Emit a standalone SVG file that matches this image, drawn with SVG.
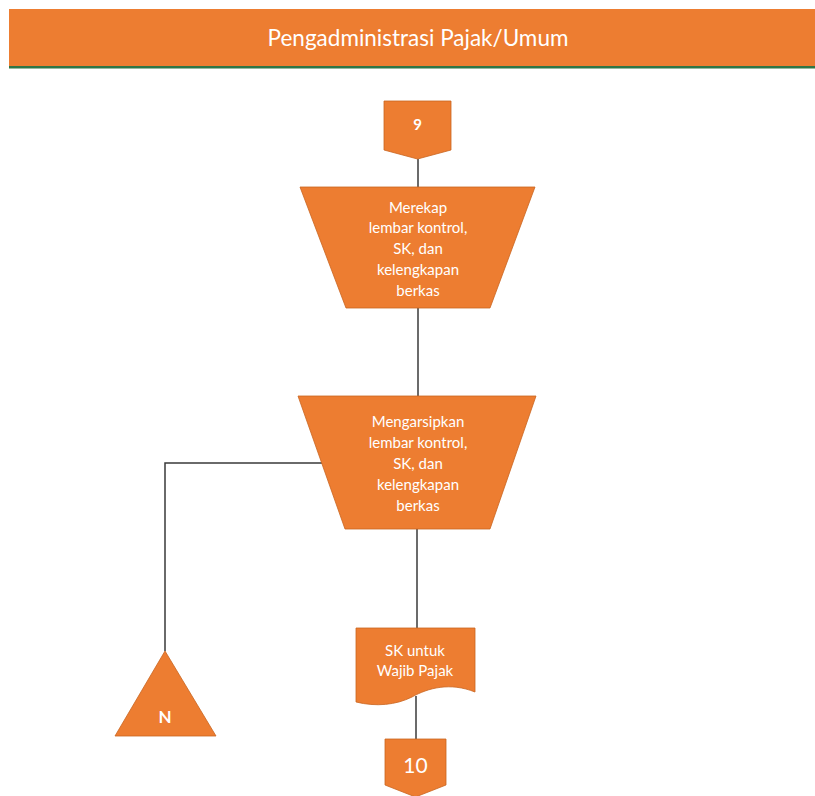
<svg xmlns="http://www.w3.org/2000/svg" width="815" height="796" viewBox="0 0 815 796">
<style>
.shape{fill:#ED7D31;stroke:#C9641F;stroke-width:0.8}
.lbl{font-family:Lato,"Open Sans","Liberation Sans",sans-serif;fill:#FFFFFF;text-anchor:middle;dominant-baseline:central}
.t14{font-size:15px}
.conn{fill:none;stroke:#3A3A3A;stroke-width:1.5}
</style>
<rect width="815" height="796" fill="#FFFFFF"/>
<g id="header">
<rect x="9" y="9" width="806" height="57" fill="#ED7D31"/>
<rect x="9" y="66" width="806" height="2.5" fill="#2F7545"/>
<text class="lbl" x="418" y="37" font-size="22.5">Pengadministrasi Pajak/Umum</text>
</g>
<g id="connectors">
<line class="conn" x1="418" y1="159" x2="418" y2="187"/>
<line class="conn" x1="418" y1="308" x2="418" y2="396"/>
<polyline class="conn" points="322,463 165,463 165,651"/>
<line class="conn" x1="417" y1="529" x2="417" y2="628"/>
<line class="conn" x1="416" y1="696" x2="416" y2="739"/>
</g>
<g id="offpage9">
<polygon class="shape" points="384,101 451,101 451,150 417.5,159 384,150"/>
<text class="lbl t14" x="417.5" y="124" font-weight="bold">9</text>
</g>
<g id="merekap">
<polygon class="shape" points="300,187 535,187 490,308 346,308"/>
<text class="lbl t14" x="418" y="207">Merekap</text>
<text class="lbl t14" x="418" y="227">lembar kontrol,</text>
<text class="lbl t14" x="418" y="248">SK, dan</text>
<text class="lbl t14" x="418" y="269">kelengkapan</text>
<text class="lbl t14" x="418" y="290">berkas</text>
</g>
<g id="mengarsipkan">
<polygon class="shape" points="298,396 536,396 490,529 345,529"/>
<text class="lbl t14" x="418" y="421">Mengarsipkan</text>
<text class="lbl t14" x="418" y="442">lembar kontrol,</text>
<text class="lbl t14" x="418" y="463">SK, dan</text>
<text class="lbl t14" x="418" y="484">kelengkapan</text>
<text class="lbl t14" x="418" y="505">berkas</text>
</g>
<g id="arsipN">
<polygon class="shape" points="165,651 216,736 115,736"/>
<text class="lbl" x="165" y="716" font-size="17" font-weight="bold">N</text>
</g>
<g id="skwp">
<path class="shape" d="M356,628 H475 V692 C450,682 428,688 412,697 C396,705 376,707 356,702 Z"/>
<text class="lbl t14" x="415" y="650">SK untuk</text>
<text class="lbl t14" x="415" y="670">Wajib Pajak</text>
</g>
<g id="offpage10">
<polygon class="shape" points="385,739 446,739 446,785 415.5,797 385,785"/>
<text class="lbl" x="415.5" y="764" font-size="21">10</text>
</g>
</svg>
